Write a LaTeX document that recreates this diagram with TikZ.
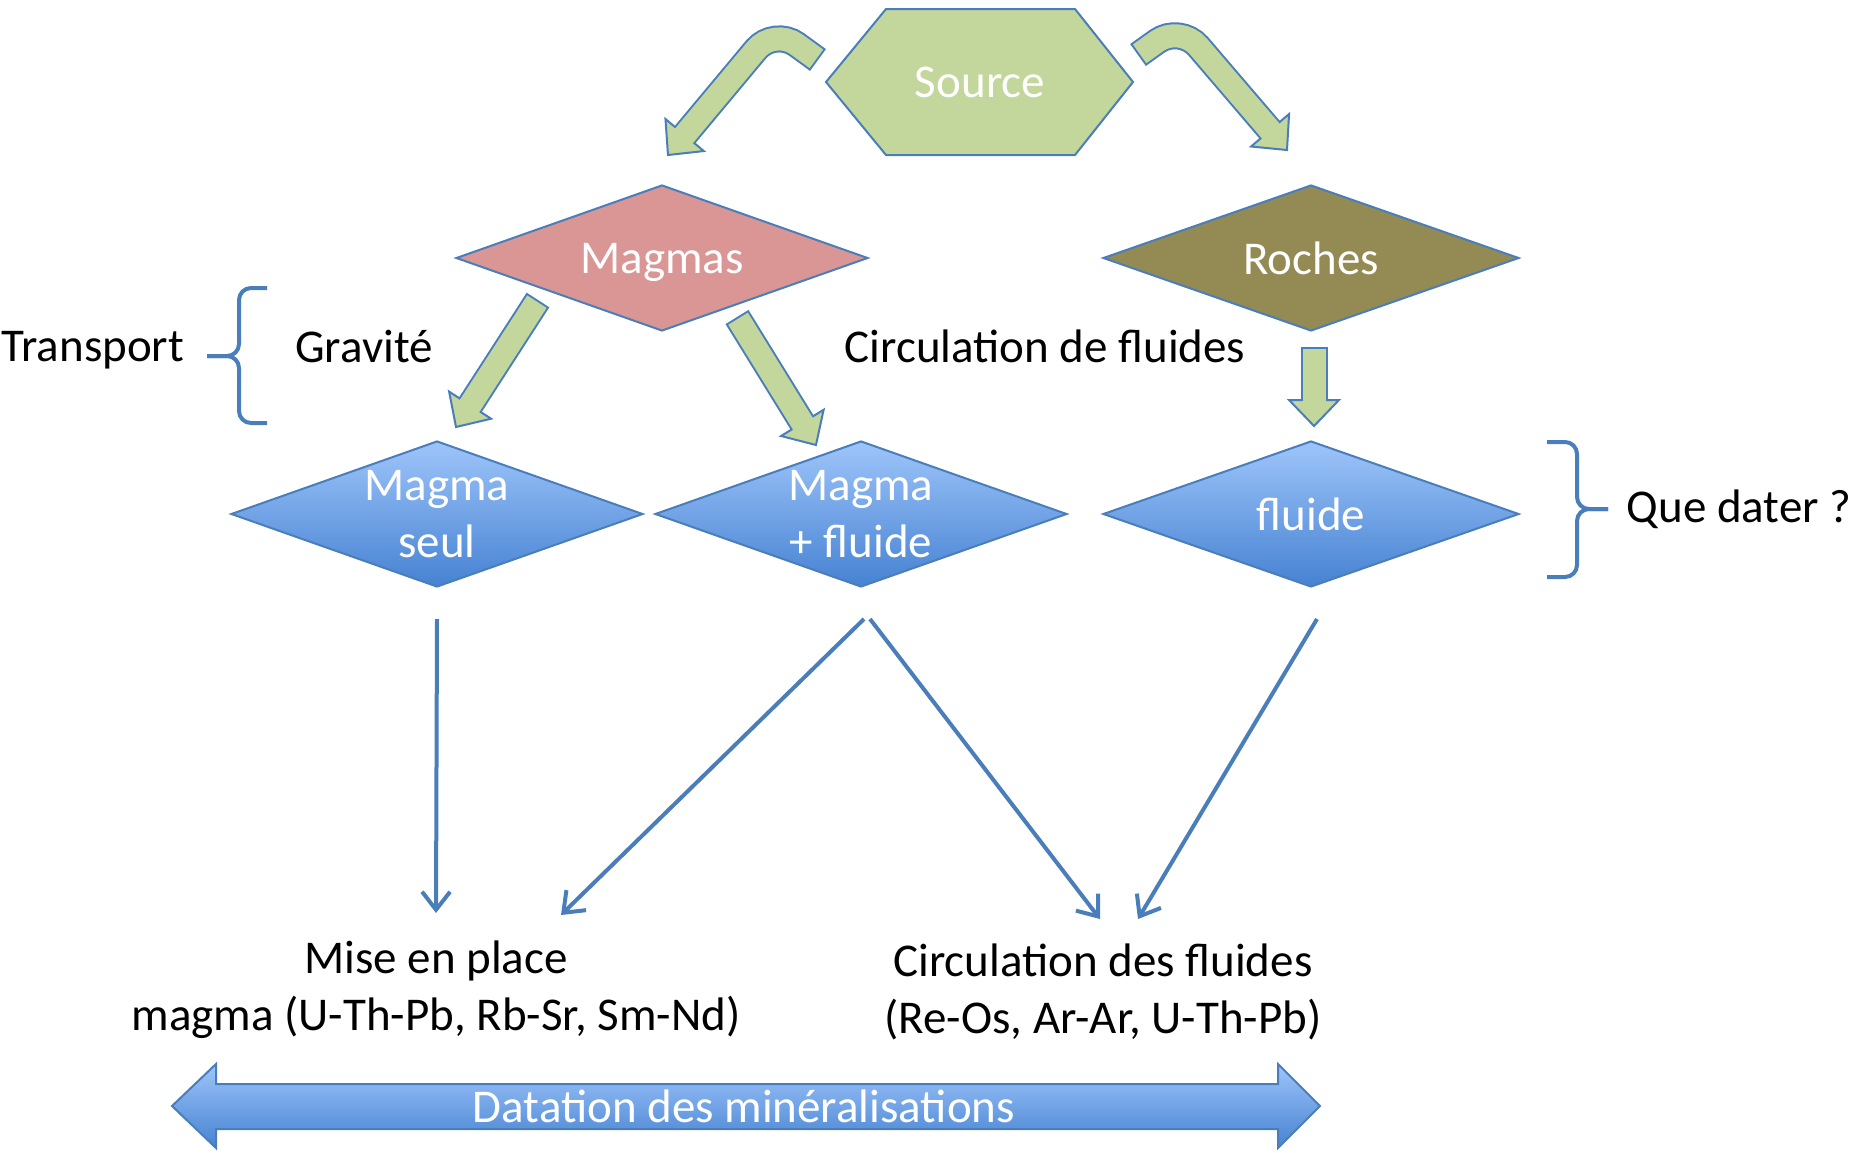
\documentclass[tikz,border=0pt]{standalone}
\usepackage{fontspec}
\setmainfont{Carlito}
\usetikzlibrary{arrows.meta,calc,shapes.geometric}
\definecolor{edgeblue}{RGB}{74,126,187}
\definecolor{srcgreen}{RGB}{195,214,155}
\definecolor{magpink}{RGB}{217,150,148}
\definecolor{rocolive}{RGB}{148,138,84}
\definecolor{diatop}{RGB}{158,197,250}
\definecolor{diabot}{RGB}{70,130,210}
\tikzset{wtext/.style={text=white, align=center},
         lozenge/.style={diamond, aspect=2.8, draw=edgeblue, line width=1pt,
           inner sep=0pt, minimum width=206pt, minimum height=73pt, wtext},
         bluefill/.style={top color=diatop, bottom color=diabot},
         curly/.style={draw=edgeblue, line width=2pt, rounded corners=6pt},
         thinarr/.style={draw=edgeblue, line width=2pt,
           -{Straight Barb[length=9pt,width=14pt]}}}
\newcommand\fatarrow[3]{%
  \coordinate (fa-b) at ($(#3)!13pt!(#2)$);
  \draw[edgeblue, line width=13.5pt, rounded corners=14pt] #1 -- (fa-b);
  \filldraw[fill=srcgreen, draw=edgeblue, line width=1pt] (#3)
    -- ($(fa-b)!12.5pt!90:(#3)$) -- ($(fa-b)!12.5pt!-90:(#3)$) -- cycle;
  \draw[srcgreen, line width=11.5pt, rounded corners=14pt,
    shorten <=1pt, shorten >=-1.5pt] #1 -- (fa-b);}

\begin{document}
\begin{tikzpicture}[x=0.5pt, y=-0.5pt, font=\fontsize{23.5pt}{28.5pt}\selectfont]
  \useasboundingbox (0,0) rectangle (1864,1152);

  \filldraw[fill=srcgreen, draw=edgeblue, line width=1pt] (826,82) -- (886,9)
    -- (1075,9) -- (1133,82) -- (1075,155) -- (886,155) -- cycle;
  \node[wtext] (source) at (980,82) {Source};

  \node[lozenge, fill=magpink, text depth=0pt] (magmas) at (662,258) {Magmas};
  \node[lozenge, fill=rocolive, minimum width=208pt] (roches) at (1311,258) {Roches};
  \node[lozenge, bluefill] (seul) at (437,514) {Magma\\seul};
  \node[lozenge, bluefill] (plusfl) at (861,514) {Magma\\+ fluide};
  \node[lozenge, bluefill, minimum width=208pt] (fluide) at (1311,514) {fluide};

  \coordinate (l1) at (818,60); \coordinate (l2) at (774,28); \coordinate (l3) at (668,155);
  \coordinate (k1) at (1138,55); \coordinate (k2) at (1180,25); \coordinate (k3) at (1287,150);
  \fatarrow{(l1) -- (l2)}{l2}{l3}
  \fatarrow{(k1) -- (k2)}{k2}{k3}

  \coordinate (m1) at (538,300); \coordinate (m2) at (456,427);
  \coordinate (m3) at (737,317); \coordinate (m4) at (816,445);
  \coordinate (r1) at (1314,347); \coordinate (r2) at (1314,426);
  \fatarrow{(m1)}{m1}{m2}
  \fatarrow{(m3)}{m3}{m4}
  \fatarrow{(r1)}{r1}{r2}

  \node[anchor=west, inner sep=0pt, text depth=0pt] (transport) at (1,346) {Transport};
  \node (gravite) at (364,346) {Gravité};
  \node (circ) at (1045,346) {Circulation de fluides};
  \node (dater) at (1739,509) {Que dater ?};
  \draw[curly] (267,288) -- (239,288) -- (239,356) -- (207,356);
  \draw[curly] (267,423) -- (239,423) -- (239,356) -- (207,356);
  \draw[curly] (1547,442) -- (1577,442) -- (1577,509) -- (1608,509);
  \draw[curly] (1547,577) -- (1577,577) -- (1577,509) -- (1608,509);

  \node[align=center] (place) at (436,990) {Mise en place\\magma (U-Th-Pb, Rb-Sr, Sm-Nd)};
  \node[align=center] (fluides) at (1103,992) {Circulation des fluides\\(Re-Os, Ar-Ar, U-Th-Pb)};

  \coordinate (e1) at (436,913); \coordinate (e2) at (561,915);
  \coordinate (e3) at (1100,919); \coordinate (e4) at (1138,919);
  \draw[thinarr] ([yshift=-15.5pt]seul.south) -- (e1);
  \draw[thinarr] ([xshift=1.5pt,yshift=-15.5pt]plusfl.south) -- (e2);
  \draw[thinarr] ([xshift=4.5pt,yshift=-15.5pt]plusfl.south) -- (e3);
  \draw[thinarr] ([xshift=3pt,yshift=-15.5pt]fluide.south) -- (e4);

  \draw[draw=edgeblue, line width=1pt, bluefill] (172,1106) -- (216,1064) -- (216,1084)
    -- (1278,1084) -- (1278,1064) -- (1320,1106) -- (1278,1148) -- (1278,1129)
    -- (216,1129) -- (216,1148) -- cycle;
  \node[wtext] (datation) at (744,1106) {Datation des minéralisations};
\end{tikzpicture}
\end{document}
